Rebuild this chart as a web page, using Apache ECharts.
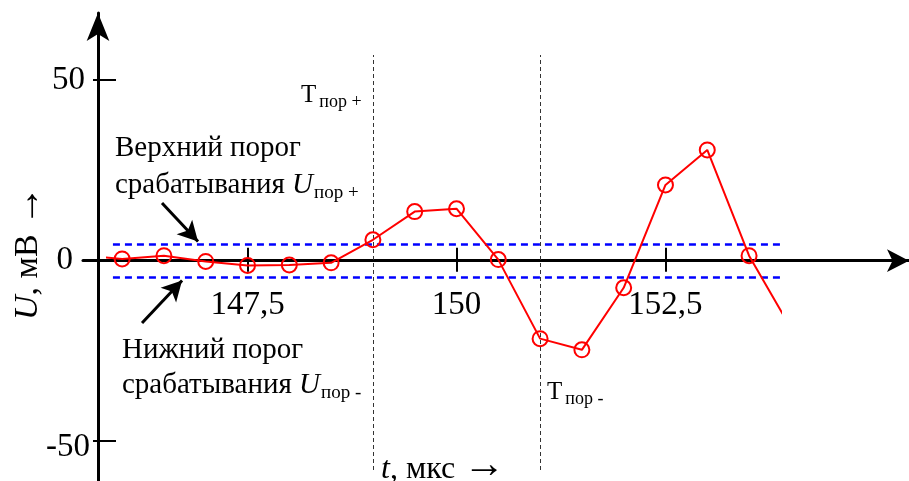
<!DOCTYPE html>
<html>
<head>
<meta charset="utf-8">
<script src="https://cdn.jsdelivr.net/npm/echarts@6/dist/echarts.min.js"></script>
<style>
  html, body { margin: 0; padding: 0; background: #fff; }
  #chart { width: 909px; height: 481px; }
</style>
</head>
<body>
<div id="chart"></div>
<script>
// Sampled signal: time, microseconds
const times = [145.5, 146.0, 146.5, 147.0, 147.5, 148.0, 148.5, 149.0, 149.5,
               150.0, 150.5, 151.0, 151.5, 152.0, 152.5, 153.0, 153.5, 154.0];
// Voltage, mV
const voltage = [1.5, 0.5, 1.4, -0.2, -1.3, -1.2, -0.6, 5.8, 13.6,
                 14.4, 0.3, -21.6, -24.7, -7.5, 21.0, 30.7, 1.4, -18.7];
// Upper / lower trigger thresholds, mV
const thresholds = [4.6, -4.6];
// Trigger instants T+ and T-, microseconds
const triggerTimes = [149.0, 151.0];
// Axis tick values
const xTicks = [147.5, 150, 152.5];
const yTicks = [-50, 0, 50];
const yTickMarks = [-50, 50];

const FONT = '"Liberation Serif", "Times New Roman", serif';

const points = times.map((t, i) => [t, voltage[i]]);

const chart = echarts.init(document.getElementById('chart'), null, { renderer: 'canvas' });

// All three grids share one scale (83.6 px per µs, 3.609 px per mV).
// grid 0: clipped plot area for the signal and guide lines
// grid 1: time axis with arrow, its bottom edge sits on U = 0
// grid 2: voltage axis with arrow
const plotX = { min: 145.819, max: 153.882 };
const plotY = { min: -58, max: 57 };
const axisX = { min: 145.532, max: 155.413 };
const axisY = { min: -61.04, max: 68.63 };
const thresholdStart = 145.89;

const baseGrid = { containLabel: false, outerBoundsMode: 'none' };

const hiddenAxis = (gridIndex, extra) => Object.assign(
  { gridIndex, type: 'value', min: 0, max: 1, show: false,
    axisLine: { onZero: false } }, extra || {});

const option = {
  animation: false,
  backgroundColor: '#ffffff',
  grid: [
    Object.assign({ left: 107, top: 55, width: 674, height: 415 }, baseGrid),
    Object.assign({ left: 83, top: 160, width: 826, height: 100.7 }, baseGrid),
    Object.assign({ left: 98, top: 13, width: 200, height: 468 }, baseGrid)
  ],
  xAxis: [
    { gridIndex: 0, type: 'value', min: plotX.min, max: plotX.max, show: false },
    {
      gridIndex: 1, type: 'value', min: axisX.min, max: axisX.max, position: 'bottom',
      axisLine: { onZero: false, lineStyle: { color: '#000', width: 3 },
                  symbol: ['none', 'arrow'], symbolSize: [17, 22] },
      axisTick: { show: true, inside: true, length: 13, customValues: xTicks,
                  lineStyle: { color: '#000', width: 2 } },
      axisLabel: { show: true, customValues: xTicks, margin: 28,
                   fontFamily: FONT, fontSize: 33, color: '#000',
                   formatter: v => String(v).replace('.', ',') },
      splitLine: { show: false }
    },
    {
      gridIndex: 1, type: 'value', min: axisX.min, max: axisX.max, position: 'bottom',
      axisLine: { show: false, onZero: false },
      axisTick: { show: true, inside: false, length: 11, customValues: xTicks,
                  lineStyle: { color: '#000', width: 2 } },
      axisLabel: { show: false },
      splitLine: { show: false }
    },
    hiddenAxis(2)
  ],
  yAxis: [
    { gridIndex: 0, type: 'value', min: plotY.min, max: plotY.max, show: false },
    hiddenAxis(1),
    {
      gridIndex: 2, type: 'value', min: axisY.min, max: axisY.max, position: 'left',
      axisLine: { show: true, onZero: false, lineStyle: { color: '#000', width: 3 },
                  symbol: ['none', 'arrow'], symbolSize: [17, 28] },
      axisTick: { show: true, inside: true, length: 18, customValues: yTickMarks,
                  lineStyle: { color: '#000', width: 2 } },
      axisLabel: {
        show: true, customValues: yTicks, margin: 8, color: '#000',
        fontFamily: FONT, fontSize: 33,
        formatter: v => v === 0 ? '{z|0}' : (v > 0 ? '{p|' + v + '}' : '{n|' + v + '}'),
        rich: {
          z: { fontFamily: FONT, fontSize: 33, padding: [0, 17, 0, 0] },
          p: { fontFamily: FONT, fontSize: 33, padding: [0, 5, 0, 0] },
          n: { fontFamily: FONT, fontSize: 33, padding: [12, 0, 0, 0] }
        }
      },
      splitLine: { show: false }
    },
    {
      gridIndex: 2, type: 'value', min: axisY.min, max: axisY.max, position: 'left',
      axisLine: { show: false, onZero: false },
      axisTick: { show: true, inside: false, length: 5, customValues: yTickMarks,
                  lineStyle: { color: '#000', width: 2 } },
      axisLabel: { show: false },
      splitLine: { show: false }
    }
  ],
  series: [
    {
      // trigger instants
      type: 'line', xAxisIndex: 0, yAxisIndex: 0, data: [], silent: true,
      markLine: {
        silent: true, symbol: 'none', label: { show: false },
        lineStyle: { color: '#333', width: 1, type: [4, 3] },
        data: triggerTimes.map(t => ({ xAxis: t }))
      }
    },
    {
      // thresholds
      type: 'line', xAxisIndex: 0, yAxisIndex: 0, data: [], silent: true, z: 3,
      markLine: {
        silent: true, symbol: 'none', label: { show: false },
        lineStyle: { color: '#0000ff', width: 2.5, type: [7, 5] },
        data: thresholds.map(v => [{ coord: [thresholdStart, v] }, { coord: [plotX.max, v] }])
      }
    },
    {
      // signal
      type: 'line', xAxisIndex: 0, yAxisIndex: 0, data: points, clip: true, z: 5,
      symbol: 'circle', symbolSize: 15, showAllSymbol: true,
      lineStyle: { color: '#ff0000', width: 2 },
      itemStyle: { color: 'rgba(0,0,0,0)', borderColor: '#ff0000', borderWidth: 2 }
    },
    {
      // pointer arrows to the thresholds
      type: 'line', xAxisIndex: 0, yAxisIndex: 0, data: [], silent: true, z: 6,
      markLine: {
        silent: true, label: { show: false },
        symbol: ['none', 'arrow'], symbolSize: [16, 20],
        lineStyle: { color: '#000', width: 3, type: 'solid' },
        data: [
          [{ coord: [146.477, 15.99] }, { coord: [146.908, 5.3] }],
          [{ coord: [146.238, -17.26] }, { coord: [146.717, -5.5] }]
        ]
      }
    }
  ],
  graphic: [
    { type: 'text', x: 115, y: 148, silent: true,
      style: { text: 'Верхний порог', fontFamily: FONT, fontSize: 29, fill: '#000',
               textAlign: 'left', textVerticalAlign: 'middle' } },
    { type: 'text', x: 115, y: 185, silent: true,
      style: { text: '{a|срабатывания }{i|U}{s|пор +}', fill: '#000',
               textAlign: 'left', textVerticalAlign: 'middle',
               rich: {
                 a: { fontFamily: FONT, fontSize: 29, verticalAlign: 'bottom' },
                 i: { fontFamily: FONT, fontSize: 29, fontStyle: 'italic', verticalAlign: 'bottom' },
                 s: { fontFamily: FONT, fontSize: 19, verticalAlign: 'bottom', padding: [0, 0, -3, 1] }
               } } },
    { type: 'text', x: 122, y: 350, silent: true,
      style: { text: 'Нижний порог', fontFamily: FONT, fontSize: 29, fill: '#000',
               textAlign: 'left', textVerticalAlign: 'middle' } },
    { type: 'text', x: 122, y: 385, silent: true,
      style: { text: '{a|срабатывания }{i|U}{s|пор -}', fill: '#000',
               textAlign: 'left', textVerticalAlign: 'middle',
               rich: {
                 a: { fontFamily: FONT, fontSize: 29, verticalAlign: 'bottom' },
                 i: { fontFamily: FONT, fontSize: 29, fontStyle: 'italic', verticalAlign: 'bottom' },
                 s: { fontFamily: FONT, fontSize: 19, verticalAlign: 'bottom', padding: [0, 0, -3, 1] }
               } } },
    { type: 'text', x: 301, y: 95, silent: true,
      style: { text: '{t|Т}{s|пор +}', fill: '#000',
               textAlign: 'left', textVerticalAlign: 'middle',
               rich: {
                 t: { fontFamily: FONT, fontSize: 25, verticalAlign: 'bottom' },
                 s: { fontFamily: FONT, fontSize: 18, verticalAlign: 'bottom', padding: [0, 0, -4, 3] }
               } } },
    { type: 'text', x: 547, y: 392, silent: true,
      style: { text: '{t|Т}{s|пор -}', fill: '#000',
               textAlign: 'left', textVerticalAlign: 'middle',
               rich: {
                 t: { fontFamily: FONT, fontSize: 25, verticalAlign: 'bottom' },
                 s: { fontFamily: FONT, fontSize: 18, verticalAlign: 'bottom', padding: [0, 0, -4, 3] }
               } } },
    // axis titles
    { type: 'text', x: 381, y: 470, silent: true,
      style: { text: '{i|t}{a|, мкс }{r|→}', fill: '#000',
               textAlign: 'left', textVerticalAlign: 'middle',
               rich: {
                 i: { fontFamily: FONT, fontSize: 32, fontStyle: 'italic', verticalAlign: 'middle' },
                 a: { fontFamily: FONT, fontSize: 32, verticalAlign: 'middle' },
                 r: { fontFamily: FONT, fontSize: 42, verticalAlign: 'middle', padding: [0, 0, 8, 0] }
               } } },
    { type: 'text', x: 27, y: 253, rotation: Math.PI / 2, silent: true,
      style: { text: '{i|U}{a|, мВ }{r|→}', fill: '#000',
               textAlign: 'center', textVerticalAlign: 'middle',
               rich: {
                 i: { fontFamily: FONT, fontSize: 34, fontStyle: 'italic', verticalAlign: 'bottom' },
                 a: { fontFamily: FONT, fontSize: 34, verticalAlign: 'bottom' },
                 r: { fontFamily: FONT, fontSize: 40, verticalAlign: 'bottom', padding: [0, 0, -3, 0] }
               } } }
  ]
};

chart.setOption(option);
</script>
</body>
</html>
